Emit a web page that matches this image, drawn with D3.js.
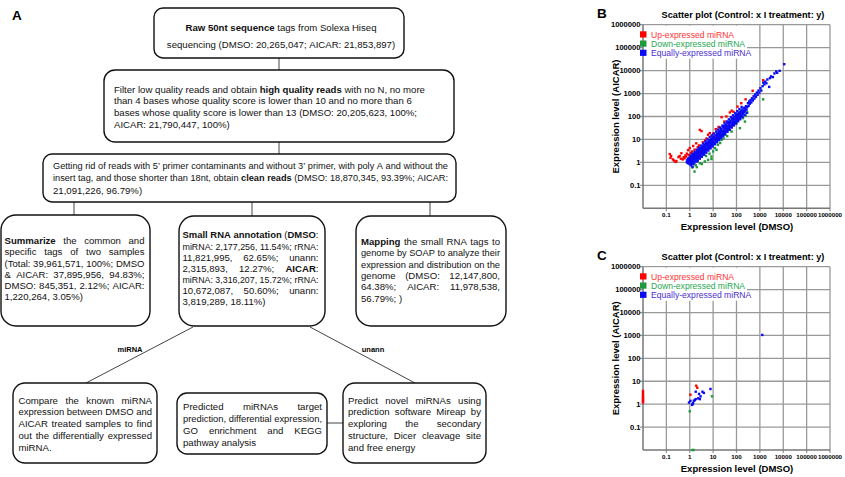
<!DOCTYPE html>
<html>
<head>
<meta charset="utf-8">
<script src="https://cdn.jsdelivr.net/npm/d3@7"></script>
<style>
  body { margin: 0; background: #fff; }
  svg { display: block; font-family: Arial, "Liberation Sans", sans-serif; }
</style>
</head>
<body>
<svg id="fig" width="845" height="477"></svg>
<script>
// ---------- flowchart texts (** toggles bold)
const rawText = [
  "**Raw 50nt sequence** tags from Solexa Hiseq",
  "sequencing (DMSO: 20,265,047; AICAR: 21,853,897)"
];
const filterText = [
  "Filter low quality reads and obtain **high quality reads** with no N, no more",
  "than 4 bases whose quality score is lower than 10 and no more than 6",
  "bases whose quality score is lower than 13 (DMSO: 20,205,623, 100%;",
  "AICAR: 21,790,447, 100%)"
];
const cleanText = [
  "Getting rid of reads with 5’ primer contaminants and without 3’ primer, with poly A and without the",
  "insert tag, and those shorter than 18nt, obtain **clean reads** (DMSO: 18,870,345, 93.39%; AICAR:",
  "21,091,226, 96.79%)"
];
const summarizeText = [
  "**Summarize** the common and",
  "specific tags of two samples",
  "(Total: 39,961,571, 100%; DMSO",
  "& AICAR: 37,895,956, 94.83%;",
  "DMSO: 845,351, 2.12%; AICAR:",
  "1,220,264, 3.05%)"
];
const annotationText = [
  "**Small RNA annotation** (**DMSO**:",
  "miRNA: 2,177,256, 11.54%; rRNA:",
  "11,821,995, 62.65%; unann:",
  "2,315,893, 12.27%; **AICAR**:",
  "miRNA: 3,316,207, 15.72%; rRNA:",
  "10,672,087, 50.60%; unann:",
  "3,819,289, 18.11%)"
];
const mappingText = [
  "**Mapping** the small RNA tags to",
  "genome by SOAP to analyze their",
  "expression and distribution on the",
  "genome (DMSO: 12,147,800,",
  "64.38%; AICAR: 11,978,538,",
  "56.79%; )"
];
const compareText = [
  "Compare the known miRNA",
  "expression between DMSO and",
  "AICAR treated samples to find",
  "out the differentially expressed",
  "miRNA."
];
const targetText = [
  "Predicted miRNAs target",
  "prediction, differential expression,",
  "GO enrichment and KEGG",
  "pathway analysis"
];
const novelText = [
  "Predict novel miRNAs using",
  "prediction software Mireap by",
  "exploring the secondary",
  "structure, Dicer cleavage site",
  "and free energy"
];
const branchLabels = ["miRNA", "unann"];

// ---------- scatter data [DMSO, AICAR]
const bUp = [[0.14,2.3],[0.15,1.6],[0.16,1.9],[0.19,1.35],[0.21,1.2],[0.25,1.05],[0.27,1.15],[0.33,1.7],
  [0.37,1.9],[0.42,1.45],[0.44,2.5],[0.5,1.35],[0.55,1.7],[0.6,1.5],[0.65,2.0],[0.7,1.8],[0.75,2.4],
  [0.85,3.4],[0.9,2.1],[1.0,4.2],[1.1,2.6],[1.25,3.0],[1.4,5.2],[1.6,3.6],[1.9,6.8],[2.2,4.6],[2.5,5.5],
  [2.7,26],[3.2,23],[3.6,7.5],[4.5,9],[5.2,11],[6.1,16],[7.2,19],[8.5,13.5],[10,18],[13,28],[17,35],
  [23,93],[30,60],[37,100],[52,150],[62,180],[75,160],[110,270],[160,380],[245,560],[490,1320],[1380,3800]];
const bDown = [[1.3,0.6],[1.4,0.92],[1.6,0.4],[1.8,0.75],[2.0,0.62],[2.7,0.92],[3.3,0.85],[4.4,1.1],
  [5.0,1.9],[6.1,1.3],[7.0,2.4],[8.5,1.4],[8.5,1.8],[10,3.0],[12,4.2],[14,3.5],[16,5.8],[20,7],[23,9.6],
  [28,11],[32,16],[40,14],[52,26],[62,22],[72,43],[100,50],[140,31],[190,85],[230,60],[250,110],[290,150],[1380,560]];
const bEqual = [[0.75,1.05],[0.78,1.2],[0.8,0.95],[0.82,1.35],[0.85,1.1],[0.88,1.5],[0.9,0.9],[0.92,1.25],
  [0.95,1.05],[0.97,1.6],[1.0,0.85],[1.0,1.15],[1.0,1.4],
  [1.05,1.0],[1.08,1.7],[1.1,1.25],[1.12,0.75],[1.15,1.45],[1.18,1.1],[1.2,1.9],[1.22,0.9],[1.25,1.3],
  [1.28,1.6],[1.3,1.05],[1.32,0.65],[1.35,2.1],[1.38,1.4],[1.4,1.15],[1.42,1.8],[1.45,0.85],[1.48,1.55],
  [1.5,2.3],[1.55,1.25],[1.6,1.7],[1.62,1.0],[1.65,2.0],[1.7,1.45],[1.75,2.6],[1.8,1.2],[1.85,1.85],
  [1.9,2.2],[1.95,1.4],[2.0,2.9],[2.0,1.65],[2.05,1.1],[2.1,2.4],[2.15,1.9],[2.2,3.2],[2.25,1.5],[2.3,2.6],
  [2.4,2.0],[2.45,3.5],
  [2.5,1.7],[2.6,2.9],[2.7,2.2],[2.75,3.8],[2.8,1.8],[2.9,3.2],[3.0,2.5],[3.1,4.2],[3.2,2.0],[3.3,3.5],
  [3.4,2.8],[3.5,4.8],[3.6,2.4],[3.7,3.9],[3.8,3.1],[3.9,5.3],[4.0,2.6],[4.1,4.4],[4.3,3.5],[4.4,6.0],
  [4.5,2.9],[4.6,4.9],[4.8,3.9],[4.9,6.6],
  [5.0,3.3],[5.2,5.5],[5.4,4.4],[5.6,7.3],[5.8,3.7],[6.0,6.1],[6.2,4.9],[6.4,8.2],[6.6,4.2],[6.8,6.9],
  [7.0,5.5],[7.3,9.3],[7.5,4.8],[7.8,7.8],[8.0,6.2],[8.3,10.5],[8.6,5.4],[8.9,8.8],[9.2,7.0],[9.5,12],[9.8,6.2],
  [10,10],[10.5,8],[11,13.5],[11.5,7.2],[12,11.5],[12.5,9.2],[13,15.5],[13.5,8.5],[14,13],[14.5,10.5],
  [15,18],[15.5,9.8],[16,15],[16.5,12],[17,21],[17.5,11],[18,17],[18.5,14],[19,24],[19.5,12.5],
  [20,19],[21,16],[22,28],[23,14.5],[24,22],[25,18],[26,33],[27,17],[28,26],[29,21],[30,38],[31,19.5],
  [32,30],[34,24],[35,44],[36,23],[38,35],[40,28],[41,51],[42,26],[44,40],[46,33],[47,58],[48,30],
  [50,47],[53,38],[55,66],[57,36],[59,54],[62,44],[64,76],[66,41],[69,63],[72,51],[74,88],[77,49],
  [80,74],[83,59],[86,100],[89,56],[92,85],[95,68],[98,115],
  [100,64],[104,97],[108,78],[112,130],[116,72],[120,112],[125,90],[130,150],[135,84],[140,130],
  [146,105],[152,175],[158,98],[165,150],[172,120],[180,205],[188,135],[196,175],[205,155],[215,240],
  [225,170],[240,210],[255,280],[270,200],[290,260],
  [310,380],[330,290],[350,450],[370,360],[400,520],[430,410],[460,620],[500,500],[540,760],[580,600],
  [630,900],[680,720],[740,1100],[800,880],[870,1350],[950,1100],[1050,1700],[1150,1350],[1300,2100],
  [1400,3000],[1550,2500],[1700,3300],[1900,2800],[2100,4100],[2500,1950],[2700,4700],[3000,5600],
  [3600,5200],[4200,7500],[5000,9200],[5500,8000],[7000,9800],[11000,19000],
  // upper edge of the band
  [1.1,2.0],[1.3,2.4],[1.6,2.9],[2.0,3.6],[2.5,4.4],[3.1,5.4],[3.8,6.6],[4.7,8.2],[5.8,10],[7.1,12.5],
  [8.8,15],[11,18],[13.5,22],[16.5,27],[20,33],[25,40],[31,50],[38,61],[47,75],[58,92],[71,113],
  [88,138],[108,170],[133,210],[165,260],
  // lower edge of the band
  [2.2,1.2],[2.7,1.45],[3.3,1.75],[4.1,2.15],[5.1,2.65],[6.3,3.3],[7.8,4.1],[9.6,5.0],[12,6.2],
  [14.8,7.6],[18,9.4],[22,11.5],[27,14],[33,17.5],[41,21.5],[51,26.5],[63,33],[78,41],[96,50],
  [118,62],[145,76],[180,95],[220,118],[270,145],
  // middle
  [1.15,1.6],[1.7,2.2],[2.6,2.4],[3.5,3.9],[5.3,6.5],[7.5,8.5],[11,10.5],[15,16],[22,23],[33,36],
  [49,52],[73,80],[110,120],[160,165],[230,230]];

const cUp = [[0.01,1.2],[0.01,1.35],[0.01,1.5],[0.01,1.7],[0.01,1.9],[0.01,2.2],[0.01,2.6],[0.01,3.1],
  [0.01,3.8],[1.07,2.6],[1.9,6.4],[2.1,5.2]];
const cDown = [[1.0,0.49],[8.9,2.2],[1.3,0.01],[1.45,0.01]];
const cEqual = [[0.93,1.18],[1.07,1.4],[1.26,0.93],[1.39,1.1],[1.3,1.0],[1.5,1.4],[1.64,1.5],[1.8,1.66],
  [2.3,1.8],[2.5,2.8],[2.7,1.66],[2.9,2.2],[3.5,3.5],[4.0,3.1],[1.8,3.5],[7.7,4.6],[1270,1050]];

const tickValues = [0.1, 1, 10, 100, 1000, 10000, 100000, 1000000];
const legendLabels = ["Up-expressed miRNA", "Down-expressed miRNA", "Equally-expressed miRNA"];
const plotTitle = "Scatter plot (Control: x I treatment: y)";
const xTitle = "Expression level (DMSO)";
const yTitle = "Expression level (AICAR)";

const svg = d3.select("#fig");

// ---------- flowchart
const FS = 9.6;

function parseLine(str) {
  const words = [[]];
  str.split("**").forEach((t, i) => {
    t.split(" ").forEach((p, j) => {
      if (j > 0) words.push([]);
      if (p) words[words.length - 1].push({t: p, b: i % 2 == 1});
    });
  });
  return words.filter(w => w.length);
}

function drawBlock(g, lines, o) {
  lines.forEach((line, i) => {
    const y = o.ty + i * o.lh;
    const lg = g.append("g");
    const els = parseLine(line).map(w => {
      const t = lg.append("text").attr("y", y).attr("font-size", FS).attr("fill", "#111");
      w.forEach(r => t.append("tspan").attr("font-weight", r.b ? "bold" : null).text(r.t));
      return {t, w: t.node().getComputedTextLength()};
    });
    const total = d3.sum(els, e => e.w);
    const space = FS * 0.278;
    const natural = total + space * (els.length - 1);
    let gap = space, sx = 1;
    if (natural > o.tw) sx = o.tw / natural;          // squeeze long lines a little
    else if (o.align == "justify" && i < lines.length - 1 && els.length > 1)
      gap = (o.tw - total) / (els.length - 1);
    let x = o.tx;
    if (o.align == "center") x = o.tx + (o.tw - natural) / 2;
    els.forEach(e => { e.t.attr("x", x); x += e.w + gap; });
    if (sx < 1) lg.attr("transform", `translate(${o.tx},0) scale(${sx},1) translate(${-o.tx},0)`);
  });
}

const boxes = [
  {x: 154, y: 8,   w: 250, h: 50,  r: 9,  text: rawText,        align: "center",  tx: 158, tw: 246, ty: 30.5, lh: 17},
  {x: 104, y: 70,  w: 350, h: 72,  r: 11, text: filterText,     align: "left",    tx: 114, tw: 334, ty: 92.5, lh: 11.7},
  {x: 43,  y: 154, w: 413, h: 48,  r: 9,  text: cleanText,      align: "justify", tx: 53,  tw: 395, ty: 169.5, lh: 12},
  {x: 1,   y: 215, w: 149, h: 111, r: 15, text: summarizeText,  align: "justify", tx: 4.5, tw: 140, ty: 244.2, lh: 11.2},
  {x: 179, y: 216, w: 146, h: 110, r: 15, text: annotationText, align: "justify", tx: 182.5, tw: 136, ty: 238.5, lh: 11.1},
  {x: 356, y: 216, w: 150, h: 110, r: 15, text: mappingText,    align: "justify", tx: 361, tw: 139, ty: 245, lh: 11.3},
  {x: 13,  y: 383, w: 144, h: 80,  r: 12, text: compareText,    align: "justify", tx: 18.5, tw: 133.5, ty: 403.5, lh: 11.9},
  {x: 177, y: 393, w: 150, h: 61,  r: 10, text: targetText,     align: "justify", tx: 183, tw: 139, ty: 410, lh: 11.9},
  {x: 343, y: 383, w: 143, h: 80,  r: 12, text: novelText,      align: "justify", tx: 348, tw: 133, ty: 403.5, lh: 11.9}
];

const links = [[279,58,279,70],[279,142,279,154],[74,202,74,215],[252,202,252,216],[430,202,430,216],
  [193,327,86,383],[310,327,415,383],[327,423,343,423]];

const flow = svg.append("g");
flow.selectAll("line").data(links).join("line")
  .attr("x1", d => d[0]).attr("y1", d => d[1]).attr("x2", d => d[2]).attr("y2", d => d[3])
  .attr("stroke", "#444").attr("stroke-width", 1);

boxes.forEach(b => {
  flow.append("rect").attr("x", b.x).attr("y", b.y).attr("width", b.w).attr("height", b.h)
    .attr("rx", b.r).attr("fill", "#fff").attr("stroke", "#111").attr("stroke-width", 1.4);
  drawBlock(flow, b.text, b);
});

flow.selectAll("text.branch").data(branchLabels).join("text")
  .attr("class", "branch")
  .attr("x", (d, i) => [130, 373][i]).attr("y", 352)
  .attr("text-anchor", "middle").attr("font-size", 7.5).attr("font-weight", "bold")
  .text(d => d);

svg.append("text").attr("x", 12).attr("y", 20).attr("font-size", 13.5).attr("font-weight", "bold").text("A");

// ---------- scatter plots
const x = d3.scaleLog().domain([0.01, 1e6]).range([643, 830]);
const colors = ["#ff0000", "#1e9a3c", "#0a0af5"];
const textColors = ["#ff3535", "#26a852", "#4a30d0"];

function scatter(letter, top, bottom, series) {
  const y = d3.scaleLog().domain([0.01, 1e6]).range([bottom, top]);
  const g = svg.append("g");
  const [x0, x1] = x.range();

  g.selectAll("line.h").data(tickValues).join("line").attr("class", "h")
    .attr("x1", x0 - 3).attr("x2", x1).attr("y1", d => y(d)).attr("y2", d => y(d))
    .attr("stroke", "#999").attr("stroke-width", 1.3);
  g.selectAll("line.v").data(tickValues).join("line").attr("class", "v")
    .attr("x1", d => x(d)).attr("x2", d => x(d)).attr("y1", top).attr("y2", bottom + 3)
    .attr("stroke", "#999").attr("stroke-width", 1.3);

  // legend background hides grid
  g.append("rect").attr("x", x0).attr("y", top + 1).attr("width", 104).attr("height", 33).attr("fill", "#fff");

  g.append("line").attr("x1", x0).attr("x2", x0).attr("y1", top).attr("y2", bottom)
    .attr("stroke", "#777").attr("stroke-width", 1.5);
  g.append("line").attr("x1", x0).attr("x2", x1).attr("y1", bottom).attr("y2", bottom)
    .attr("stroke", "#777").attr("stroke-width", 1.5);

  g.selectAll("text.yt").data(tickValues).join("text").attr("class", "yt")
    .attr("x", x0 - 2.5).attr("y", d => y(d) + 2.7).attr("text-anchor", "end")
    .attr("font-size", 7.6).attr("font-weight", "bold").text(d => d3.format("")(d));
  g.selectAll("text.xt").data(tickValues).join("text").attr("class", "xt")
    .attr("x", d => x(d)).attr("y", bottom + 9).attr("text-anchor", "middle")
    .attr("font-size", 6.2).attr("font-weight", "bold").text(d => d3.format("")(d));

  series.forEach((s, k) => {
    g.append("g").selectAll("rect").data(s).join("rect")
      .attr("x", d => x(d[0]) - 1.2).attr("y", d => y(d[1]) - 1.2)
      .attr("width", 2.4).attr("height", 2.4).attr("fill", colors[k]);
  });

  legendLabels.forEach((l, i) => {
    const cy = top + 9.8 + i * 9.2;
    g.append("rect").attr("x", 640).attr("y", cy - 3.2).attr("width", 6.5).attr("height", 6.2).attr("fill", colors[i]);
    g.append("text").attr("x", 651).attr("y", cy + 3).attr("font-size", 8.6).attr("fill", textColors[i]).text(l);
  });

  g.append("text").attr("x", 743).attr("y", top - 7).attr("text-anchor", "middle")
    .attr("font-size", 9.2).attr("font-weight", "bold").text(plotTitle);
  g.append("text").attr("x", 737).attr("y", bottom + 22).attr("text-anchor", "middle")
    .attr("font-size", 9.5).attr("font-weight", "bold").text(xTitle);
  g.append("text").attr("transform", `translate(618.5,${(top + bottom) / 2}) rotate(-90)`)
    .attr("text-anchor", "middle").attr("font-size", 9.5).attr("font-weight", "bold").text(yTitle);
  g.append("text").attr("x", 597).attr("y", top - 6.7).attr("font-size", 13.5).attr("font-weight", "bold").text(letter);
}

scatter("B", 24.7, 208.3, [bUp, bDown, bEqual]);
scatter("C", 266.7, 450, [cUp, cDown, cEqual]);
</script>
</body>
</html>
